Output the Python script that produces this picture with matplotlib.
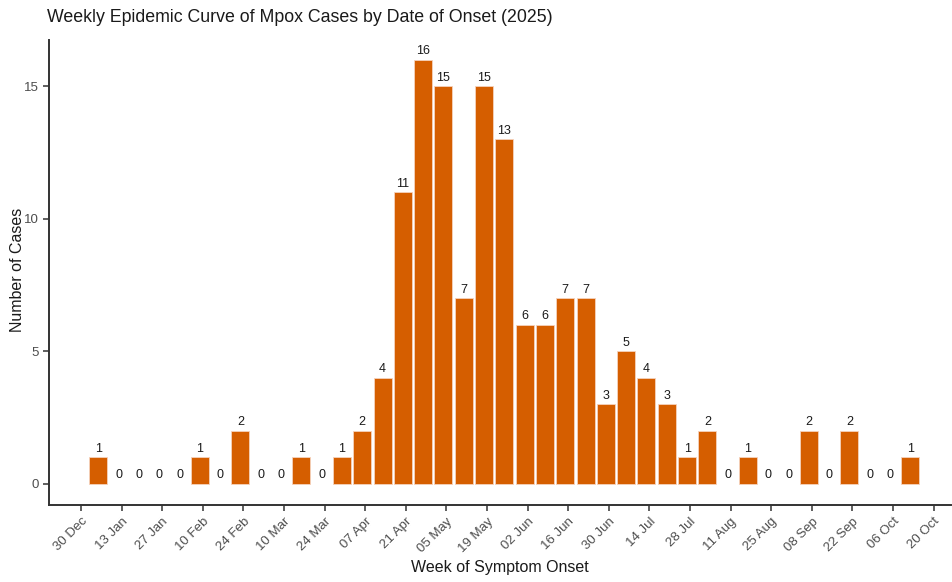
import numpy as np
import pandas as pd
import matplotlib
matplotlib.use("Agg")
import matplotlib.pyplot as plt
import matplotlib.dates as mdates

plt.rcParams['font.family'] = ['Liberation Sans', 'DejaVu Sans']

# weekly counts, weeks starting Sunday 05 Jan 2025
week_start = "2025-01-05"
cases = [1, 0, 0, 0, 0, 1, 0, 2, 0, 0, 1, 0, 1, 2, 4, 11, 16, 15, 7, 15, 13,
         6, 6, 7, 7, 3, 5, 4, 3, 1, 2, 0, 1, 0, 0, 2, 0, 2, 0, 0, 1]
weeks = pd.date_range(week_start, periods=len(cases), freq="7D")
tick_dates = pd.date_range("2024-12-30", "2025-10-20", freq="14D")

fig = plt.figure(figsize=(9.52, 5.82), dpi=100)
ax = fig.add_axes([49 / 952, 77 / 582, (951 - 49) / 952, (505 - 40) / 582])

edge_w = [0.6 if c > 0 else 0 for c in cases]
ax.bar(weeks, cases, width=6.2, color="#D55E00", edgecolor="#F6D3BD", linewidth=edge_w)
for d, c in zip(weeks, cases):
    ax.annotate(str(c), (d, c), xytext=(0, 2), textcoords="offset points",
                ha="center", va="bottom", fontsize=9, color="#1a1a1a")

ax.set_ylim(-0.8, 16.75)
ax.set_xlim(pd.Timestamp("2024-12-19"), pd.Timestamp("2025-10-26"))
ax.set_yticks([0, 5, 10, 15])
ax.set_xticks(tick_dates)
ax.xaxis.set_major_formatter(mdates.DateFormatter("%d %b"))
plt.setp(ax.get_xticklabels(), rotation=45, ha="right", rotation_mode="anchor")

for s in ["top", "right"]:
    ax.spines[s].set_visible(False)
for s in ["left", "bottom"]:
    ax.spines[s].set_color("#333333")
    ax.spines[s].set_linewidth(1.4)
ax.tick_params(axis="both", colors="#333333", length=4, width=1.1,
               labelsize=9.5, labelcolor="#4D4D4D")

ax.set_xlabel("Week of Symptom Onset", fontsize=11.5, color="#1a1a1a", labelpad=4)
fig.text(18 / 952, 1 - 270 / 582, "Number of Cases", fontsize=11.5, color="#1a1a1a",
         rotation=90, ha="center", va="center")
fig.text(47 / 952, 1 - 17 / 582, "Weekly Epidemic Curve of Mpox Cases by Date of Onset (2025)",
         fontsize=12.8, color="#1a1a1a", ha="left", va="center")

fig.savefig("out.png", dpi=100)
